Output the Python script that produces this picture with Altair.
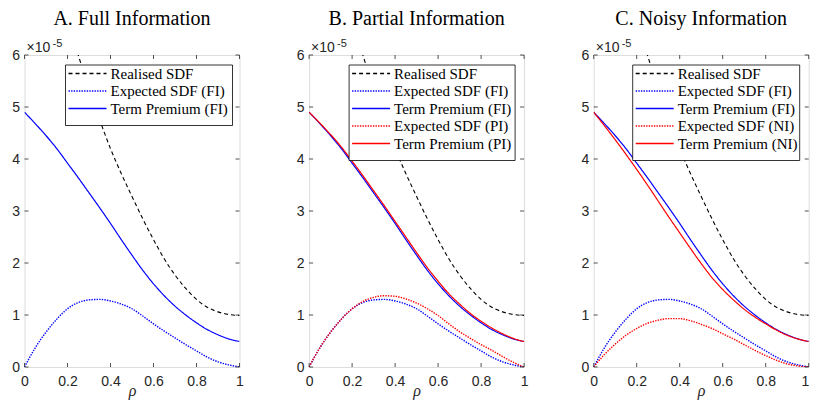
import altair as alt
import pandas as pd

# ---------------- data (values in units of 1e-5) ----------------
rho = [0.0, 0.05, 0.1, 0.15, 0.2, 0.25, 0.3, 0.35, 0.4, 0.45, 0.5,
       0.55, 0.6, 0.65, 0.7, 0.75, 0.8, 0.85, 0.9, 0.95, 1.0]

rho_realised = [0.2, 0.25, 0.3, 0.35, 0.4, 0.45, 0.5, 0.55, 0.6, 0.65,
                0.7, 0.75, 0.8, 0.85, 0.9, 0.95, 1.0]
realised_sdf = [6.7, 6.0, 5.35, 4.75, 4.20, 3.72, 3.28, 2.85, 2.45, 2.08,
                1.77, 1.51, 1.30, 1.15, 1.06, 1.01, 0.99]

tp_fi = [4.90, 4.68, 4.45, 4.20, 3.92, 3.64, 3.35, 3.06, 2.76, 2.45, 2.15,
         1.86, 1.60, 1.37, 1.17, 1.00, 0.85, 0.72, 0.62, 0.54, 0.49]
esdf_fi = [0.0, 0.37, 0.67, 0.92, 1.12, 1.24, 1.29, 1.30, 1.27, 1.21, 1.12,
           0.98, 0.83, 0.69, 0.56, 0.43, 0.31, 0.19, 0.10, 0.04, 0.0]

tp_pi = [4.90, 4.69, 4.47, 4.23, 3.96, 3.68, 3.39, 3.10, 2.80, 2.50, 2.20,
         1.91, 1.65, 1.41, 1.21, 1.03, 0.88, 0.75, 0.64, 0.55, 0.49]
esdf_pi = [0.0, 0.37, 0.67, 0.92, 1.12, 1.26, 1.34, 1.37, 1.36, 1.31, 1.23,
           1.12, 0.99, 0.83, 0.68, 0.55, 0.43, 0.32, 0.20, 0.09, 0.0]

tp_ni = [4.90, 4.64, 4.37, 4.09, 3.80, 3.50, 3.19, 2.88, 2.58, 2.28, 1.99,
         1.72, 1.49, 1.29, 1.11, 0.96, 0.83, 0.71, 0.61, 0.54, 0.49]
esdf_ni = [0.0, 0.24, 0.44, 0.61, 0.74, 0.84, 0.90, 0.93, 0.93, 0.89, 0.82,
           0.74, 0.64, 0.54, 0.43, 0.32, 0.22, 0.13, 0.06, 0.02, 0.0]

titles = ["A. Full Information", "B. Partial Information", "C. Noisy Information"]
x_ticks = [0, 0.2, 0.4, 0.6, 0.8, 1]
y_ticks = [0, 1, 2, 3, 4, 5, 6]

W, H = 215, 312
BLUE, RED, BLACK = "#0000FF", "#FF0000", "#000000"
DASHED = [4, 3]
DOTTED = [1.4, 1.2]
SOLID = [1, 0]
AXC = "#262626"
SERIF = "Liberation Serif, DejaVu Serif, Times New Roman, serif"
SANS = "Liberation Sans, Arial, sans-serif"

xs = alt.Scale(domain=[0, 1], nice=False, zero=False)
ys = alt.Scale(domain=[0, 6], nice=False, zero=False)


def x_axis(last_flush=False):
    kw = dict(values=x_ticks, format="~g", ticks=False, domain=False, grid=False,
              labelFont=SANS, labelFontSize=14, labelColor=AXC,
              labelPadding=7, title="ρ", titleFont=SERIF,
              titleFontStyle="italic", titleFontWeight="normal", titleFontSize=16,
              titleColor=AXC, titlePadding=-6, labelFlush=False)
    if last_flush:
        kw["labelAlign"] = {"condition": {"test": "datum.value == 1", "value": "right"},
                            "value": "center"}
    return alt.Axis(**kw)


y_axis = alt.Axis(values=y_ticks, format="d", ticks=False, domain=False, grid=False,
                  labelFont=SANS, labelFontSize=14, labelColor=AXC,
                  labelPadding=5, title=None)


def line(xv, yv, color, dash, width, flush):
    df = pd.DataFrame({"rho": xv, "v": yv})
    return alt.Chart(df).mark_line(color=color, strokeDash=dash, strokeWidth=width,
                                   clip=True, interpolate="monotone").encode(
        x=alt.X("rho:Q", scale=xs, axis=x_axis(flush)),
        y=alt.Y("v:Q", scale=ys, axis=y_axis),
    )


def ticks():
    xt = pd.DataFrame({"t": x_ticks})
    yt = pd.DataFrame({"t": y_ticks})
    st = dict(color=AXC, strokeWidth=0.8)
    return [
        alt.Chart(xt).mark_rule(**st).encode(x=alt.X("t:Q", scale=xs), y=alt.value(H), y2=alt.value(H - 4)),
        alt.Chart(xt).mark_rule(**st).encode(x=alt.X("t:Q", scale=xs), y=alt.value(0), y2=alt.value(4)),
        alt.Chart(yt).mark_rule(**st).encode(y=alt.Y("t:Q", scale=ys), x=alt.value(0), x2=alt.value(4)),
        alt.Chart(yt).mark_rule(**st).encode(y=alt.Y("t:Q", scale=ys), x=alt.value(W), x2=alt.value(W - 4)),
    ]


def exponent():
    d = pd.DataFrame({"a": [0]})
    return [
        alt.Chart(d).mark_text(text="×10", font=SANS, fontSize=14, color=AXC,
                               align="left", baseline="alphabetic").encode(x=alt.value(2), y=alt.value(-3)),
        alt.Chart(d).mark_text(text="-5", font=SANS, fontSize=11, color=AXC,
                               align="left", baseline="alphabetic").encode(x=alt.value(28), y=alt.value(-8)),
    ]


def legend(entries, x0, x1):
    d = pd.DataFrame({"a": [0]})
    y0 = 10
    step = 17.5
    y1 = y0 + 8 + step * len(entries)
    layers = [alt.Chart(d).mark_rect(fill="white", stroke="black", strokeWidth=0.8).encode(
        x=alt.value(x0), x2=alt.value(x1), y=alt.value(y0), y2=alt.value(y1))]
    for i, (lab, col, dash) in enumerate(entries):
        yy = y0 + 8.5 + step * i
        layers.append(alt.Chart(d).mark_rule(color=col, strokeDash=dash, strokeWidth=1.3).encode(
            x=alt.value(x0 + 3), x2=alt.value(x0 + 41), y=alt.value(yy)))
        layers.append(alt.Chart(d).mark_text(text=lab, font=SERIF, fontSize=15,
                                             color="black", align="left", baseline="middle").encode(
            x=alt.value(x0 + 45), y=alt.value(yy)))
    return layers


def panel(title, series, entries, lx0, lx1, flush=False):
    layers = [line(rho_realised, realised_sdf, BLACK, DASHED, 1.1, flush)]
    for (xv, yv, col, dash) in series:
        layers.append(line(xv, yv, col, dash, 1.4 if dash == DOTTED else 1.2, flush))
    layers += ticks() + exponent() + legend(entries, lx0, lx1)
    return alt.layer(*layers).properties(
        width=W, height=H,
        title=alt.TitleParams(title, font=SERIF, fontSize=20, fontWeight="normal",
                              color="black", offset=9, anchor="middle"))


pA = panel(titles[0],
           [(rho, esdf_fi, BLUE, DOTTED), (rho, tp_fi, BLUE, SOLID)],
           [("Realised SDF", BLACK, DASHED), ("Expected SDF (FI)", BLUE, DOTTED),
            ("Term Premium (FI)", BLUE, SOLID)], 41, 208)
pB = panel(titles[1],
           [(rho, esdf_fi, BLUE, DOTTED), (rho, tp_fi, BLUE, SOLID),
            (rho, esdf_pi, RED, DOTTED), (rho, tp_pi, RED, SOLID)],
           [("Realised SDF", BLACK, DASHED), ("Expected SDF (FI)", BLUE, DOTTED),
            ("Term Premium (FI)", BLUE, SOLID), ("Expected SDF (PI)", RED, DOTTED),
            ("Term Premium (PI)", RED, SOLID)], 40, 206)
pC = panel(titles[2],
           [(rho, esdf_fi, BLUE, DOTTED), (rho, tp_fi, BLUE, SOLID),
            (rho, esdf_ni, RED, DOTTED), (rho, tp_ni, RED, SOLID)],
           [("Realised SDF", BLACK, DASHED), ("Expected SDF (FI)", BLUE, DOTTED),
            ("Term Premium (FI)", BLUE, SOLID), ("Expected SDF (NI)", RED, DOTTED),
            ("Term Premium (NI)", RED, SOLID)], 39, 206, flush=True)

chart = alt.hconcat(pA, pB, pC, spacing=50.6).properties(
    padding={"left": 2.5, "top": 0, "right": 0, "bottom": 1}
).configure_view(stroke=AXC, strokeWidth=1).configure(background="white")

chart.save("out.html", embed_options={"renderer": "svg", "actions": False})
